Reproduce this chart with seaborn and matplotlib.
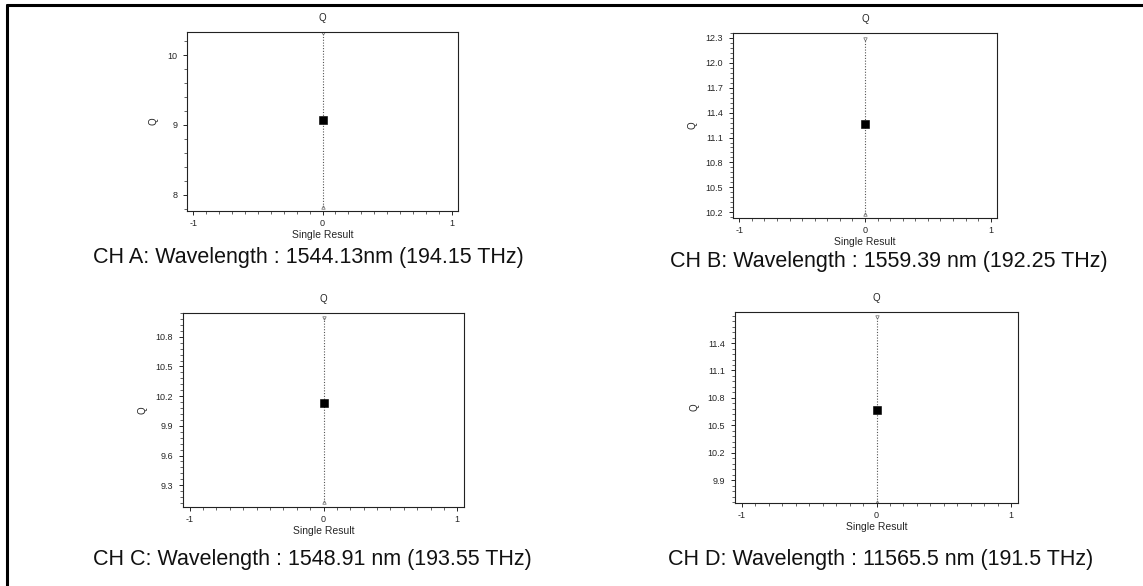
import numpy as np
import pandas as pd
import seaborn as sns
import matplotlib
matplotlib.use("Agg")
from matplotlib import pyplot as plt
from matplotlib.ticker import MultipleLocator, AutoMinorLocator
from matplotlib.lines import Line2D

# one Q reading per channel, with the spread drawn as a dotted bar
channels = ["A", "B", "C", "D"]
q_value = [9.07, 11.26, 10.13, 10.67]
q_low = [7.83, 10.18, 9.13, 9.66]
q_high = [10.31, 12.29, 10.99, 11.68]
y_limits = [(7.77, 10.33), (10.13, 12.36), (9.08, 11.04), (9.65, 11.74)]
y_ticks = [[8, 9, 10],
           [10.2, 10.5, 10.8, 11.1, 11.4, 11.7, 12.0, 12.3],
           [9.3, 9.6, 9.9, 10.2, 10.5, 10.8],
           [9.9, 10.2, 10.5, 10.8, 11.1, 11.4]]
captions = ["CH A: Wavelength : 1544.13nm (194.15 THz)",
            "CH B: Wavelength : 1559.39 nm (192.25 THz)",
            "CH C: Wavelength : 1548.91 nm (193.55 THz)",
            "CH D: Wavelength : 11565.5 nm (191.5 THz)"]

sns.set_style("ticks")
plt.rcParams["font.family"] = ["Liberation Sans", "DejaVu Sans"]

W, H = 1143, 586
fig = plt.figure(figsize=(W/100, H/100), dpi=100)

# axes boxes in pixels: left, right, top, bottom
boxes = [(187, 458, 32, 211), (733, 997, 33, 218),
         (183, 464, 313, 507), (735, 1018, 312, 503)]
caption_xy = [(308, 257), (889, 261), (312, 559), (881, 560)]

for i, ch in enumerate(channels):
	l, r, t, b = boxes[i]
	ax = fig.add_axes([l/W, 1-b/H, (r-l)/W, (b-t)/H])
	df = pd.DataFrame({"x": [0.0], "q": [q_value[i]]})
	ax.vlines(0, q_low[i], q_high[i], colors="#555555", linestyles=(0, (1, 1.5)), linewidth=0.8)
	ax.plot([0], [q_high[i]], ls="none", marker="v", ms=2.5, mfc="none", mec="#666666", mew=0.5)
	ax.plot([0], [q_low[i]], ls="none", marker="^", ms=2.5, mfc="none", mec="#666666", mew=0.5)
	sns.scatterplot(data=df, x="x", y="q", marker="s", s=26, color="black",
		edgecolor="black", ax=ax, zorder=3)
	ax.set_xlim(-1.05, 1.05)
	ax.set_ylim(*y_limits[i])
	ax.set_xticks([-1, 0, 1])
	ax.xaxis.set_minor_locator(MultipleLocator(0.1))
	ax.set_yticks(y_ticks[i])
	ax.yaxis.set_minor_locator(AutoMinorLocator(5))
	if i == 0:
		ax.set_yticklabels(["8", "9", "10"])
	else:
		ax.set_yticklabels(["%.1f" % v for v in y_ticks[i]])
	ax.set_xticklabels(["-1", "0", "1"])
	ax.tick_params(which="major", length=3, width=0.7, labelsize=6.5)
	ax.tick_params(axis="x", which="major", pad=2.5)
	ax.tick_params(axis="y", which="major", pad=4)
	ax.tick_params(which="minor", length=2, width=0.5)
	for sp in ax.spines.values():
		sp.set_linewidth(0.8)
		sp.set_color("#222222")
	ax.set_title("Q", fontsize=7, pad=8)
	ax.set_xlabel("Single Result", fontsize=7.5, labelpad=1.5)
	ax.set_ylabel("Q", fontsize=7, labelpad=6)
	cx, cy = caption_xy[i]
	fig.text(cx/W, 1-cy/H, captions[i], ha="center", va="center", fontsize=15.5, color="#111111")

# scanned page frame (top and left edges only)
fig.add_artist(Line2D([7/W, 1.0], [1-5/H, 1-5/H], color="black", lw=2.2, transform=fig.transFigure))
fig.add_artist(Line2D([7/W, 7/W], [0.0, 1-5/H], color="black", lw=2.2, transform=fig.transFigure))

fig.savefig("out.png", dpi=100, facecolor="white")
